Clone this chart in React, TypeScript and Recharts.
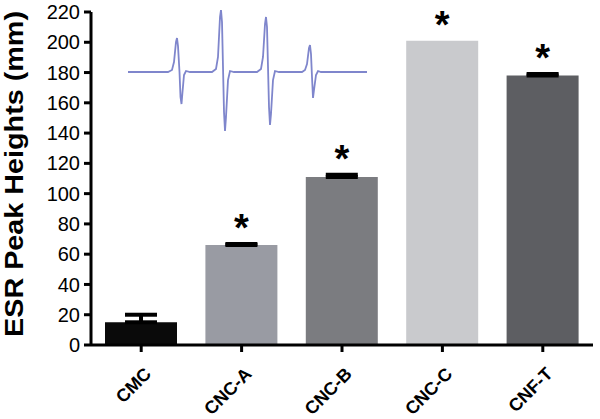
import React from "react";
import { Bar, BarChart, Cell, ErrorBar, LabelList, Line, LineChart, XAxis, YAxis } from "recharts";

const samples = ["CMC", "CNC-A", "CNC-B", "CNC-C", "CNF-T"];
const peakHeights = [15, 66, 111, 201, 178];
const peakErrors: (number | null)[] = [5, 0.8, 1.5, null, 1];
const significance = ["", "*", "*", "*", "*"];
const barColors = ["#0a0a0a", "#999ba3", "#7b7c80", "#c9cacd", "#5d5e62"];
const yTicks = [0, 20, 40, 60, 80, 100, 120, 140, 160, 180, 200, 220];

// inset ESR spectrum (field position, signal)
const spectrumField = [
  128, 168, 172, 174, 176, 177, 178, 179.5, 180.5, 181.5, 182.5, 184, 186, 190,
  212, 216, 218, 220, 221, 222, 223, 224, 225, 226, 228, 230, 234,
  257, 261, 263, 265, 266, 267, 268, 269, 270, 271, 273, 275, 279,
  302, 305, 307, 309, 310, 311, 312, 313, 314, 316, 318, 321, 367,
];
const spectrumSignal = [
  0, 0, 2, 10, 30, 34, 26, 0, -25, -32, -20, -3, 1, 0,
  0, 3, 15, 55, 62, 50, 5, -40, -59, -45, -8, 1, 0,
  0, 3, 15, 48, 55, 45, 5, -35, -53, -42, -8, 1, 0,
  0, 2, 8, 24, 27, 18, -5, -26, -18, -3, 1, 0, 0,
];

const font = "'Liberation Sans', Arial, Helvetica, sans-serif";

const data = samples.map((name, i) => ({
  name,
  value: peakHeights[i],
  err: peakErrors[i] == null ? null : [0, peakErrors[i]],
  star: significance[i],
}));

const spectrum = spectrumField.map((x, i) => ({ x, y: spectrumSignal[i] }));

const renderXTick = (props: any) => {
  const { x, y, payload } = props;
  const px = x + 11;
  const py = y + 21;
  return (
    <text
      x={px}
      y={py}
      transform={`rotate(-45 ${px} ${py})`}
      textAnchor="end"
      fontSize={18}
      fontWeight="bold"
      fontFamily={font}
      fill="#000"
    >
      {payload.value}
    </text>
  );
};

function YLabel() {
  return (
    <text
      x={0}
      y={0}
      transform="translate(23, 174) rotate(-90)"
      textAnchor="middle"
      fontSize={26}
      fontWeight="bold"
      fontFamily={font}
      fill="#000"
      textLength={326}
      lengthAdjust="spacingAndGlyphs"
    >
      ESR Peak Heights (mm)
    </text>
  );
}

function Star(props: any) {
  const { x, y, width, height, value, index } = props;
  if (!value) return null;
  const e = peakErrors[index] ?? 0;
  const capY = y - (e * height) / peakHeights[index];
  return (
    <text
      x={x + width / 2}
      y={capY - 3}
      textAnchor="middle"
      fontSize={38}
      fontWeight="bold"
      fontFamily={font}
      fill="#000"
    >
      {value}
    </text>
  );
}

export default function App() {
  return (
    <div style={{ position: "absolute", left: 0, top: 0, width: 600, height: 419, background: "#fff" }}>
      <BarChart
        width={600}
        height={419}
        data={data}
        margin={{ top: 12, right: 7, bottom: 0, left: 0 }}
        barSize={72}
      >
        <XAxis
          dataKey="name"
          height={74}
          axisLine={{ stroke: "#000", strokeWidth: 3 }}
          tickLine={{ stroke: "#000", strokeWidth: 3 }}
          tickSize={7}
          tick={renderXTick}
          interval={0}
        />
        <YAxis
          width={91}
          domain={[0, 220]}
          ticks={yTicks}
          interval={0}
          axisLine={{ stroke: "#000", strokeWidth: 3 }}
          tickLine={{ stroke: "#000", strokeWidth: 3 }}
          tickSize={7}
          tickMargin={4}
          tick={{ fontSize: 20, fill: "#000", fontFamily: font }}
          label={<YLabel />}
        />
        <Bar dataKey="value" isAnimationActive={false}>
          {data.map((d, i) => (
            <Cell key={d.name} fill={barColors[i]} />
          ))}
          <ErrorBar dataKey="err" width={16} stroke="#000" strokeWidth={4} direction="y" />
          <LabelList dataKey="star" content={<Star />} />
        </Bar>
      </BarChart>
      <div style={{ position: "absolute", left: 128, top: 10 }}>
        <LineChart width={239} height={121} data={spectrum} margin={{ top: 0, right: 0, bottom: 0, left: 0 }}>
          <XAxis dataKey="x" type="number" domain={[128, 367]} hide />
          <YAxis type="number" domain={[-59, 62]} hide />
          <Line
            dataKey="y"
            type="linear"
            stroke="#7f86cc"
            strokeWidth={1.8}
            dot={false}
            isAnimationActive={false}
          />
        </LineChart>
      </div>
    </div>
  );
}
